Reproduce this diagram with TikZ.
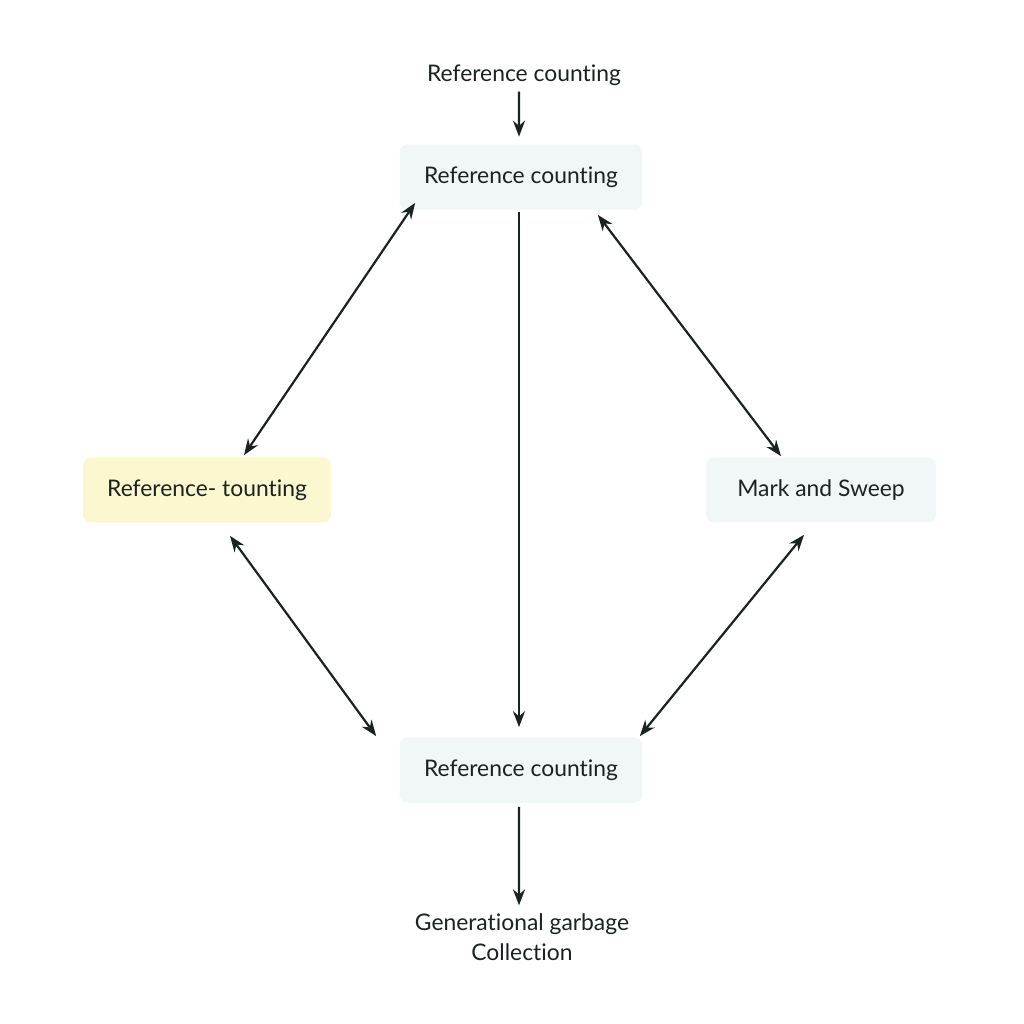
\documentclass[tikz,border=0pt]{standalone}
\usepackage{xcolor}
\usepackage{fontspec}
\setmainfont{Lato}[Ligatures={NoCommon,NoContextual}]
\usepackage{tikz}
\usetikzlibrary{arrows.meta, positioning, calc}
\definecolor{boxgray}{HTML}{F1F6F7}
\definecolor{boxyellow}{HTML}{FBF7CF}
\definecolor{linedark}{HTML}{1B2222}
\tikzset{
>={Stealth[length=3.2mm,width=2.4mm]},
box/.style={%
    rectangle,
    minimum width=4.86cm,
    minimum height=1.3cm,
	rounded corners=1.6mm,
    fill=boxgray,
    draw=none,
    text=linedark
},
label text/.style={%
    align=center,text=linedark
},
link/.style={draw=linedark,line width=1.25pt},
}

\begin{document}
\begin{tikzpicture}[x=0.02cm,y=-0.02cm, font=\fontsize{13}{17}\selectfont]
				\useasboundingbox[fill=white] (0,0) rectangle (1024,1024);

				\node[label text] at (524,75) (rctop) {Reference counting};
				\node[box] at (521,177) (rcmain) {Reference counting};
				\node[box, fill=boxyellow, minimum width=4.96cm] at (207,490) (rcleft) {Reference- tounting};
				\node[box, minimum width=4.6cm] at (821,490) (marksweep) {Mark and Sweep};
				\node[box] at (521,770) (rcbottom) {Reference counting};
				\node[label text] at (522,937) (gengc) {Generational garbage\\Collection};

			\draw[link,->] ([xshift=-0.1cm]rctop.south) -- ([xshift=-0.04cm,yshift=0.15cm]rcmain.north);
			\draw[link,->] ([xshift=-0.04cm,yshift=-0.05cm]rcmain.south) -- ([xshift=-0.04cm,yshift=0.2cm]rcbottom.north);
			\draw[link,<->] ([xshift=0.32cm,yshift=0.14cm]rcmain.south west) -- ([xshift=0.74cm,yshift=0.04cm]rcleft.north);
			\draw[link,<->] ([xshift=-0.9cm,yshift=-0.1cm]rcmain.south east) -- ([xshift=-0.8cm,yshift=0.02cm]marksweep.north);
			\draw[link,<->] ([xshift=0.46cm,yshift=-0.26cm]rcleft.south) -- ([xshift=-0.46cm,yshift=0.02cm]rcbottom.north west);
			\draw[link,<->] ([xshift=-0.34cm,yshift=-0.24cm]marksweep.south) -- ([xshift=-0.06cm,yshift=0.02cm]rcbottom.north east);
			\draw[link,->] ([xshift=-0.04cm,yshift=-0.08cm]rcbottom.south) -- ([xshift=-0.06cm,yshift=0.04cm]gengc.north);

			\end{tikzpicture}
\end{document}
